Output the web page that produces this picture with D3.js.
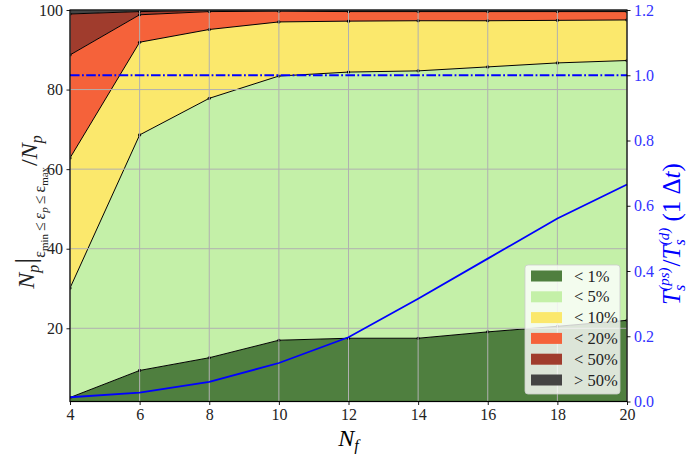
<!DOCTYPE html>
<html>
<head>
<meta charset="utf-8">
<script src="https://cdn.jsdelivr.net/npm/d3@7"></script>
<style>
  body { margin: 0; background: white; }
  svg { display: block; }
  text { font-family: "Liberation Serif", "Times New Roman", Times, "DejaVu Serif", serif; }
</style>
</head>
<body>
<div id="vis"></div>
<script>
// data
const nf = [4, 6, 8, 10, 12, 14, 16, 18, 20];
const lt1 = [2.6, 9.4, 12.6, 17.0, 17.5, 17.5, 19.1, 20.5, 22.0];
const lt5 = [27.5, 59.2, 65.2, 66.4, 66.9, 67.2, 66.6, 66.2, 65.3];
const lt10 = [32.7, 23.3, 17.3, 13.6, 12.8, 12.6, 11.6, 10.7, 10.2];
const lt20 = [25.9, 6.9, 4.5, 2.7, 2.4, 2.3, 2.3, 2.2, 2.1];
const lt50 = [10.3, 0.8, 0.3, 0.2, 0.3, 0.3, 0.3, 0.3, 0.3];
const gt50 = [1.0, 0.4, 0.1, 0.1, 0.1, 0.1, 0.1, 0.1, 0.1];
const timeRatio = [0.013, 0.027, 0.06, 0.118, 0.197, 0.315, 0.438, 0.561, 0.665];
const refRatio = 1.0;

const keys = ["lt1", "lt5", "lt10", "lt20", "lt50", "gt50"];
const labels = ["< 1%", "< 5%", "< 10%", "< 20%", "< 50%", "> 50%"];
const colors = ["#4f7f3f", "#c4f0a8", "#fbe86c", "#f5623a", "#a03c2d", "#444444"];
const xTicks = [4, 6, 8, 10, 12, 14, 16, 18, 20];
const yTicks = [20, 40, 60, 80, 100];
const rTicks = [0, 0.2, 0.4, 0.6, 0.8, 1.0, 1.2];

const W = 688, H = 454;
const margin = { top: 10, right: 61, bottom: 52.5, left: 70 };
const width = W - margin.left - margin.right;
const height = H - margin.top - margin.bottom;
const serif = '"Liberation Serif", "Times New Roman", Times, "DejaVu Serif", serif';

const svg = d3.select("#vis").append("svg").attr("width", W).attr("height", H);
const g = svg.append("g").attr("transform", `translate(${margin.left},${margin.top})`);

const x = d3.scaleLinear().domain([4, 20]).range([0, width]);
const y = d3.scaleLinear().domain([1.6, 100]).range([height, 0]);
const yR = d3.scaleLinear().domain([0, 1.2]).range([height, 0]);

const series = [lt1, lt5, lt10, lt20, lt50, gt50];
const rows = nf.map((v, i) => {
  const r = { nf: v };
  keys.forEach((k, j) => (r[k] = series[j][i]));
  return r;
});
const stacked = d3.stack().keys(keys)(rows);

svg.append("defs").append("clipPath").attr("id", "clip")
  .append("rect").attr("width", width).attr("height", height);

const plot = g.append("g").attr("clip-path", "url(#clip)");

const area = d3.area()
  .x((d) => x(d.data.nf))
  .y0((d) => y(d[0]))
  .y1((d) => y(d[1]));

plot.selectAll(".layer")
  .data(stacked)
  .join("path")
  .attr("class", "layer")
  .attr("d", area)
  .attr("fill", (d, i) => colors[i]);

// boundary lines with small markers
const line = d3.line().x((d) => x(d.data.nf)).y((d) => y(d[1]));
stacked.forEach((s) => {
  plot.append("path").attr("d", line(s))
    .attr("fill", "none").attr("stroke", "black").attr("stroke-width", 1);
  plot.selectAll(null).data(s).join("circle")
    .attr("cx", (d) => x(d.data.nf)).attr("cy", (d) => y(d[1]))
    .attr("r", 1.6).attr("fill", "black");
});

// grid
g.append("g").selectAll("line").data(xTicks).join("line")
  .attr("x1", (d) => x(d)).attr("x2", (d) => x(d))
  .attr("y1", 0).attr("y2", height)
  .attr("stroke", "#b0b0b0").attr("stroke-width", 1);
g.append("g").selectAll("line").data(yTicks).join("line")
  .attr("x1", 0).attr("x2", width)
  .attr("y1", (d) => y(d)).attr("y2", (d) => y(d))
  .attr("stroke", "#b0b0b0").attr("stroke-width", 1);

// legend
const leg = g.append("g").attr("transform", `translate(${525 - margin.left},${265 - margin.top})`);
leg.append("rect").attr("width", 95).attr("height", 129).attr("rx", 3)
  .attr("fill", "white").attr("fill-opacity", 0.8)
  .attr("stroke", "#cccccc").attr("stroke-opacity", 0.8);
const items = leg.selectAll(".item").data(labels).join("g")
  .attr("transform", (d, i) => `translate(6,${11 + i * 20.8})`);
items.append("rect").attr("x", 0).attr("y", -5.5).attr("width", 31).attr("height", 11)
  .attr("fill", (d, i) => colors[i]);
items.append("text").attr("x", 43).attr("y", 5.5)
  .style("font-family", serif).style("font-size", "16.5px")
  .attr("fill", "#222").text((d) => d);

// right axis series
const blueLine = d3.line().x((d, i) => x(nf[i])).y((d) => yR(d));
g.append("path").attr("d", blueLine(timeRatio))
  .attr("fill", "none").attr("stroke", "#0000ff").attr("stroke-width", 1.8);
g.append("line")
  .attr("x1", 0).attr("x2", width)
  .attr("y1", yR(refRatio)).attr("y2", yR(refRatio))
  .attr("stroke", "#0000ff").attr("stroke-width", 2)
  .attr("stroke-dasharray", "9.6,2.4,1.8,2.4");

// axes
const xAxis = g.append("g").attr("transform", `translate(0,${height})`)
  .call(d3.axisBottom(x).tickValues(xTicks).tickSize(3.5).tickPadding(4));
const yAxis = g.append("g")
  .call(d3.axisLeft(y).tickValues(yTicks).tickSize(3.5).tickPadding(3.5));
const rAxis = g.append("g").attr("transform", `translate(${width},0)`)
  .call(d3.axisRight(yR).tickValues(rTicks).tickFormat(d3.format(".1f")).tickSize(3.5).tickPadding(3.5));

[xAxis, yAxis, rAxis].forEach((a) => {
  a.attr("font-family", null);
  a.selectAll("text").style("font-family", serif).style("font-size", "16px");
  a.selectAll(".tick line").attr("stroke-width", 0.9);
  a.select(".domain").remove();
});
xAxis.selectAll("text").attr("fill", "#222");
yAxis.selectAll("text").attr("fill", "#222");
rAxis.selectAll("text").attr("fill", "#3333ff");
rAxis.selectAll(".tick line").attr("stroke", "black");

// frame
g.append("rect").attr("width", width).attr("height", height)
  .attr("fill", "none").attr("stroke", "black").attr("stroke-width", 1.2);

// x label
svg.append("text").attr("x", margin.left + width / 2).attr("y", 446)
  .attr("text-anchor", "middle").style("font-size", "24px").attr("font-style", "italic")
  .html('N<tspan style="font-size:16px" dy="5">f</tspan>');

// left y label
const yl = svg.append("text")
  .attr("transform", "translate(34,212) rotate(-90)")
  .attr("text-anchor", "middle").style("font-size", "24px").attr("fill", "#222");
const yParts = [
  ["N", 24, 0, true, 0], ["p", 16, 5, true, 0], ["|", 30, -4, false, 1],
  ["ε", 16, 10, false, 0], ["min", 11, 3, false, 0], ["≤", 16, -3, false, 3],
  ["ε", 16, 0, true, 3], ["p", 11, 3, true, 0], ["≤", 16, -3, false, 3],
  ["ε", 16, 0, false, 3], ["max", 11, 3, false, 0], ["/", 24, -11, false, 1],
  ["N", 24, 0, true, 0], ["p", 16, 5, true, 0]
];
yParts.forEach(([t, fs, dy, it, dx]) => {
  yl.append("tspan").style("font-size", fs + "px").attr("dy", dy).attr("dx", dx)
    .attr("font-style", it ? "italic" : "normal").text(t);
});

// right y label
const rl = svg.append("text")
  .attr("transform", "translate(680,234) rotate(-90)")
  .attr("text-anchor", "middle").style("font-size", "25px").attr("fill", "#0000ff");
rl.append("tspan").attr("font-style", "italic").text("T");
rl.append("tspan").attr("font-style", "italic").style("font-size", "16px").attr("dy", 5).text("s");
rl.append("tspan").attr("font-style", "italic").style("font-size", "15px").attr("dx", -6).attr("dy", -16).text("(ps)");
rl.append("tspan").attr("dy", 11).attr("dx", 1).text("/");
rl.append("tspan").attr("font-style", "italic").text("T");
rl.append("tspan").attr("font-style", "italic").style("font-size", "16px").attr("dy", 5).text("s");
rl.append("tspan").attr("font-style", "italic").style("font-size", "15px").attr("dx", -6).attr("dy", -16).text("(d)");
rl.append("tspan").attr("dy", 11).text(" (1 Δ");
rl.append("tspan").attr("font-style", "italic").text("t");
rl.append("tspan").text(")");
</script>
</body>
</html>
